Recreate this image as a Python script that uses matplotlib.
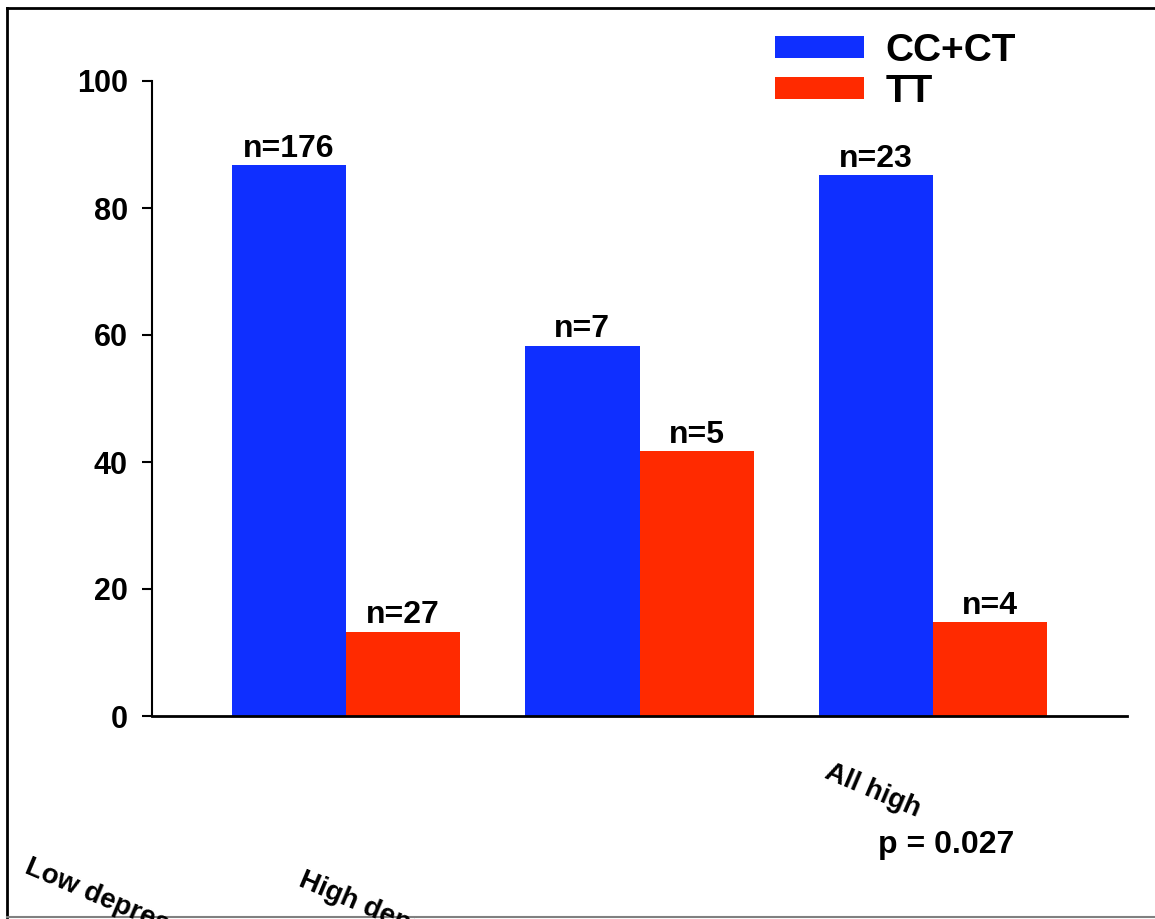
import matplotlib
matplotlib.use("Agg")
import matplotlib.pyplot as plt
import numpy as np
from matplotlib.lines import Line2D

# ---------------- DATA ----------------
groups = ["Low depression", "High depression", "All high"]
series_names = ["CC+CT", "TT"]
cc_ct = [86.7, 58.3, 85.2]
tt = [13.3, 41.7, 14.8]
cc_ct_n = ["n=176", "n=7", "n=23"]
tt_n = ["n=27", "n=5", "n=4"]
p_text = "p = 0.027"

blue = "#0f2fff"
red = "#ff2a00"

plt.rcParams["font.family"] = ["Liberation Sans", "DejaVu Sans"]
plt.rcParams["font.weight"] = "bold"

fig = plt.figure(figsize=(11.55, 9.19), dpi=100)
W, H = 1155, 919
ax = fig.add_axes([152 / W, 1 - 716 / H, (1127 - 152) / W, (716 - 81) / H])

x = np.arange(len(groups))
width = 0.39
b1 = ax.bar(x - width / 2, cc_ct, width, color=blue, label=series_names[0])
b2 = ax.bar(x + width / 2, tt, width, color=red, label=series_names[1])

for bars, labels in ((b1, cc_ct_n), (b2, tt_n)):
    for rect, lab in zip(bars, labels):
        ax.annotate(lab, (rect.get_x() + rect.get_width() / 2, rect.get_height()),
                    xytext=(0, 1), textcoords="offset points",
                    ha="center", va="bottom", fontsize=23, fontweight="bold")

ax.set_xlim(-0.661, 2.661)
ax.set_ylim(0, 100)
ax.set_yticks([0, 20, 40, 60, 80, 100])
ax.tick_params(axis="y", direction="out", length=7, width=1.5, pad=10.5, labelsize=22)
ax.set_xticks([])
for lab in ax.get_yticklabels():
    lab.set_fontweight("bold")
ax.spines["top"].set_visible(False)
ax.spines["right"].set_visible(False)
ax.spines["left"].set_linewidth(1.5)
ax.spines["bottom"].set_linewidth(2)

# category labels: rotated, placed low, cut off by the bottom edge like the original
label_pos = [(23, 872), (297, 885), (823, 777)]
for name, (px, py) in zip(groups, label_pos):
    fig.text(px / W, 1 - py / H, name, rotation=-23, rotation_mode="anchor",
             ha="left", va="baseline", fontsize=20, fontweight="bold")

fig.text(878 / W, 1 - 853 / H, p_text, ha="left", va="baseline",
         fontsize=23, fontweight="bold")

fig.legend(handles=[b1, b2], loc="upper left", bbox_to_anchor=(775 / W, 1 - 33 / H),
           frameon=False, handlelength=2.28, handleheight=0.49,
           handletextpad=0.56, labelspacing=0.13, borderpad=0, borderaxespad=0,
           prop={"weight": "bold", "size": 28})

# outer frame
fig.add_artist(Line2D([7 / W, 1.0], [1 - 8 / H, 1 - 8 / H], color="black", lw=2))
fig.add_artist(Line2D([7 / W, 7 / W], [1 - 8 / H, 1 - 917 / H], color="black", lw=2))
fig.add_artist(Line2D([7 / W, 1.0], [1 - 917 / H, 1 - 917 / H], color="grey", lw=1.5))

fig.savefig("out.png", dpi=100)
